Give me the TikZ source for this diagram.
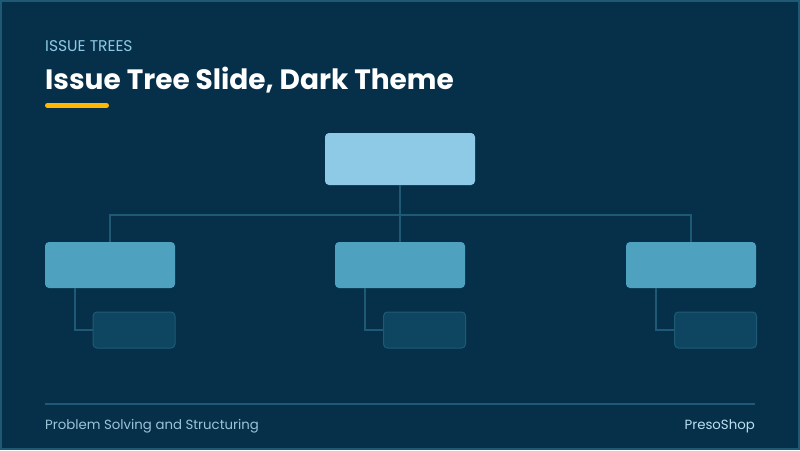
\documentclass[tikz,border=0pt]{standalone}
\usepackage{fontspec}
\setmainfont{Poppins}
\definecolor{slidebg}{HTML}{06304A}
\definecolor{rim}{HTML}{1E5A76}
\definecolor{rootfill}{HTML}{8ECAE6}
\definecolor{midfill}{HTML}{4FA2BF}
\definecolor{leaffill}{HTML}{0E4560}
\definecolor{kicker}{HTML}{8ECAE6}
\definecolor{accent}{HTML}{FFB703}
\definecolor{foot}{HTML}{9CC4D8}
\begin{document}
\begin{tikzpicture}[x=1pt,y=-1pt,
  box/.style={rounded corners=4pt,inner sep=0pt},
  rootbox/.style={box,fill=rootfill,minimum width=150pt,minimum height=52pt},
  issue/.style={box,fill=midfill,minimum width=130pt,minimum height=46pt},
  leaf/.style={box,fill=leaffill,draw=rim,line width=1pt,minimum width=82pt,minimum height=36pt},
  link/.style={draw=rim,line width=1.5pt}]
\fill[rim] (0,0) rectangle (800,450);
\fill[slidebg] (2,2) rectangle (798,448);
\useasboundingbox (0,0) rectangle (800,450);
\node[anchor=base west,inner sep=0pt,text=kicker,font=\fontsize{15.5}{18}\selectfont] (kick) at (45,51) {ISSUE TREES};
\node[anchor=base west,inner sep=0pt,text=white,font=\fontsize{28}{32}\selectfont\bfseries] (title) at (45,89) {Issue Tree Slide, Dark Theme};
\draw[accent,line width=5pt,line cap=round] (47.5,105.5) -- (106.5,105.5);
% tree
\node[rootbox] (root) at (400,159) {};
\node[issue] (a1) at (110,265) {};
\node[issue] (a2) at (400,265) {};
\node[issue] (a3) at (691,265) {};
\node[leaf] (b1) at (134,330) {};
\node[leaf] (b2) at (424.5,330) {};
\node[leaf] (b3) at (715.5,330) {};
\path[link] (root.south) -- (a2.north);
\path[link] (a1.north) -- ++(0,-27) -| (a3.north);
\foreach \i in {1,2,3}
  \path[link] ([xshift=30pt]a\i.south west) |- (b\i.west);
% footer
\draw[rim,line width=1.5pt] (45,404) -- (755,404);
\node[anchor=base west,inner sep=0pt,text=foot,font=\fontsize{13.3}{15}\selectfont] (tag) at (45,429) {Problem Solving and Structuring};
\node[anchor=base east,inner sep=0pt,text=rootfill!60!white,font=\fontsize{13.3}{15}\selectfont] (brand) at (755,429) {PresoShop};
\end{tikzpicture}
\end{document}
